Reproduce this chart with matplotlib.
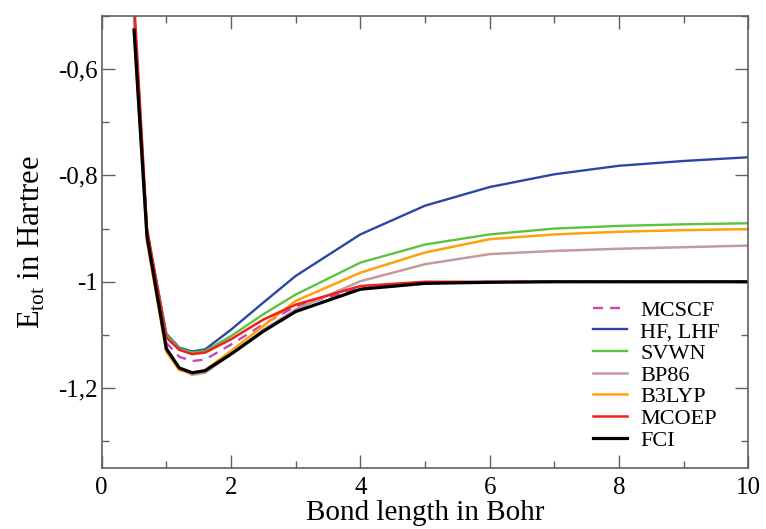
import matplotlib
matplotlib.use('Agg')
import matplotlib.pyplot as plt
from matplotlib.ticker import MultipleLocator, FuncFormatter

plt.rcParams['font.family'] = ['Liberation Serif', 'DejaVu Serif']
plt.rcParams['mathtext.fontset'] = 'custom'
plt.rcParams['mathtext.rm'] = 'Liberation Serif'

# bond lengths (Bohr)
R = [0.5, 0.7, 1.0, 1.2, 1.4, 1.6, 2.0, 2.5, 3, 4, 5, 6, 7, 8, 9, 10]

# total energies (Hartree)
mcscf = [-0.51, -0.91, -1.115, -1.141, -1.149, -1.146, -1.118, -1.080, -1.046, -1.012, -1.002, -1.0005, -1.0, -1.0, -1.0, -1.0]
hf    = [-0.49, -0.905, -1.098, -1.124, -1.131, -1.127, -1.090, -1.039, -0.989, -0.911, -0.857, -0.822, -0.798, -0.782, -0.773, -0.766]
svwn  = [-0.50, -0.905, -1.100, -1.126, -1.133, -1.130, -1.102, -1.061, -1.024, -0.964, -0.930, -0.911, -0.900, -0.895, -0.892, -0.890]
bp86  = [-0.515, -0.915, -1.125, -1.163, -1.175, -1.171, -1.136, -1.090, -1.052, -0.999, -0.967, -0.948, -0.942, -0.938, -0.935, -0.932]
b3lyp = [-0.53, -0.925, -1.132, -1.166, -1.172, -1.166, -1.130, -1.083, -1.036, -0.983, -0.945, -0.920, -0.911, -0.906, -0.903, -0.901]
mcoep = [-0.47, -0.90, -1.105, -1.128, -1.136, -1.133, -1.108, -1.071, -1.043, -1.008, -1.000, -1.0, -1.0, -1.0, -1.0, -1.0]
fci   = [-0.527, -0.915, -1.126, -1.162, -1.171, -1.167, -1.136, -1.093, -1.056, -1.014, -1.003, -1.001, -1.0, -1.0, -1.0, -1.0]

fig = plt.figure(figsize=(7.66, 5.29), dpi=100)
ax = fig.add_axes([0.1328, 0.1153, 0.8441, 0.855])

ax.plot(R, mcscf, color='#c548b8', lw=1.7, dashes=(4.2, 3), label='MCSCF')
ax.plot(R, hf, color='#2b46a6', lw=1.7, label='HF, LHF')
ax.plot(R, svwn, color='#5cc23f', lw=1.7, label='SVWN')
ax.plot(R, bp86, color='#c49a9a', lw=1.8, label='BP86')
ax.plot(R, b3lyp, color='#ffa10a', lw=1.8, label='B3LYP')
ax.plot(R, mcoep, color='#f0201a', lw=1.8, label='MCOEP')
ax.plot(R, fci, color='black', lw=2.3, label='FCI')

ax.set_xlim(0, 10)
ax.set_ylim(-1.35, -0.5)
ax.xaxis.set_major_locator(MultipleLocator(2))
ax.xaxis.set_minor_locator(MultipleLocator(1))
ax.yaxis.set_major_locator(MultipleLocator(0.2))
ax.yaxis.set_minor_locator(MultipleLocator(0.1))

def fmt(v, pos):
    s = ('%.1f' % v).rstrip('0').rstrip('.')
    return s.replace('.', ',')
ax.yaxis.set_major_formatter(FuncFormatter(fmt))

for sp in ax.spines.values():
    sp.set_color('#606060')
    sp.set_linewidth(1.2)
ax.tick_params(which='both', direction='in', top=True, right=True, color='#606060', width=1.0, labelsize=18)
ax.tick_params(which='major', length=9.5)
ax.tick_params(which='minor', length=5)
ax.tick_params(axis='x', pad=6.5)
ax.tick_params(axis='y', pad=3)

ax.set_xlabel('Bond length in Bohr', fontsize=21, labelpad=1)
ax.set_ylabel(r'E$_{\mathrm{tot}}$ in Hartree', fontsize=22)
ax.yaxis.set_label_coords(-0.085, 0.5)

ax.legend(loc='upper left', bbox_to_anchor=(593 / 766, 1 - 300 / 529), bbox_transform=fig.transFigure,
          frameon=False, fontsize=16, labelspacing=0.05, handlelength=1.53, handletextpad=0.6,
          borderpad=0, borderaxespad=0)

fig.savefig('out.png', dpi=100)
